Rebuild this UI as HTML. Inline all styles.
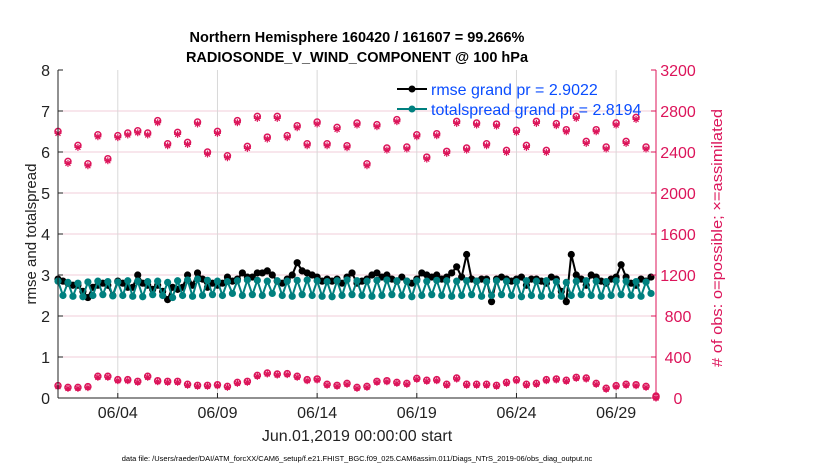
<!DOCTYPE html>
<html><head><meta charset="utf-8"><style>
body{margin:0;background:#fff;}
svg text{font-family:"Liberation Sans",sans-serif;}
</style></head><body>
<svg id="chart" width="830" height="470" xmlns="http://www.w3.org/2000/svg" style="position:absolute;left:0;top:0">
<g id="grid"></g>
<g id="marks"></g>
<g id="axes"></g>
</svg>
<script>
const xTickDays=[3,8,13,18,23,28];
const xTickLabels=["06/04","06/09","06/14","06/19","06/24","06/29"];
const yLeftTicks=[0,1,2,3,4,5,6,7,8];
const yRightTicks=[0,400,800,1200,1600,2000,2400,2800,3200];
const rmse=[2.9,2.85,2.8,2.75,2.75,2.6,2.45,2.7,2.75,2.8,
2.75,2.5,2.85,2.8,2.7,2.7,3.0,2.8,2.75,2.65,
2.75,2.6,2.4,2.7,2.65,2.7,3.0,2.75,3.05,2.9,
2.7,2.8,2.75,2.8,2.95,2.85,2.9,3.05,2.95,2.95,
3.05,3.05,3.1,3.0,2.85,2.8,2.9,3.0,3.3,3.1,
3.05,3.0,2.95,2.85,2.9,2.85,2.9,2.8,2.95,3.05,
2.8,2.85,2.9,3.0,3.05,2.95,3.0,2.9,2.85,2.95,
2.85,2.8,2.9,3.05,3.0,2.95,3.0,2.9,2.95,3.05,
3.2,2.95,3.5,2.9,2.85,2.9,2.9,2.35,2.9,2.95,
2.9,2.85,2.9,2.95,2.75,2.9,2.9,2.85,2.8,2.95,
2.9,2.6,2.35,3.5,3.0,2.9,2.75,3.0,2.95,2.85,
2.8,2.9,2.95,3.25,2.95,2.8,2.75,2.9,2.85,2.95];
const spread=[2.85,2.5,2.82,2.48,2.8,2.47,2.83,2.5,2.85,2.52,
2.84,2.49,2.83,2.5,2.86,2.48,2.85,2.47,2.84,2.52,
2.85,2.5,2.82,2.45,2.86,2.5,2.88,2.48,2.9,2.5,
2.87,2.52,2.85,2.5,2.84,2.55,2.86,2.5,2.88,2.52,
2.87,2.5,2.85,2.55,2.86,2.5,2.85,2.48,2.87,2.52,
2.88,2.5,2.86,2.48,2.84,2.47,2.86,2.5,2.88,2.52,
2.86,2.5,2.85,2.48,2.87,2.5,2.88,2.52,2.86,2.5,
2.85,2.47,2.86,2.5,2.85,2.52,2.87,2.5,2.86,2.48,
2.85,2.5,2.86,2.52,2.85,2.48,2.84,2.5,2.86,2.52,
2.85,2.5,2.84,2.47,2.86,2.5,2.85,2.48,2.86,2.5,
2.84,2.48,2.82,2.5,2.85,2.52,2.86,2.5,2.85,2.48,
2.84,2.5,2.86,2.52,2.85,2.5,2.84,2.48,2.83,2.55];
const possible=[2582,2289,2445,2266,2549,2315,2540,2566,2588,2566,
2686,2461,2572,2474,2673,2380,2582,2344,2686,2435,
2728,2526,2728,2540,2637,2461,2673,2461,2621,2442,
2663,2266,2647,2419,2696,2429,2549,2331,2559,2387,
2679,2419,2663,2461,2653,2396,2592,2445,2679,2396,
2657,2598,2728,2484,2598,2429,2663,2484,2718,2429,0];
const lowCounts=[111,94,94,101,202,202,169,169,153,202,
159,153,153,124,114,114,120,104,143,153,
211,234,224,228,202,169,176,124,114,133,
94,104,153,159,143,133,182,163,169,124,
185,124,124,124,114,143,169,124,133,169,
176,163,192,185,133,85,111,124,120,104,0];

const X0=58,X1=656,Y0=398,Y1=70;
const xs=d=>X0+(d/30)*(X1-X0);
const yl=v=>Y0-(v/8)*(Y0-Y1);
const yr=v=>Y0-(v/3200)*(Y0-Y1);
const NS="http://www.w3.org/2000/svg";
function mk(tag,attrs,parent){const e=document.createElementNS(NS,tag);for(const k in attrs)e.setAttribute(k,attrs[k]);parent.appendChild(e);return e;}
const grid=document.getElementById('grid'),marks=document.getElementById('marks'),axes=document.getElementById('axes');
const RED="#dc145a",TEAL="#00807f";

yLeftTicks.forEach(v=>{if(v>0&&v<8){const l=mk('line',{x1:X0,x2:X1,y1:yl(v),y2:yl(v),stroke:'#f2cdd8','stroke-width':1},grid);

}});
xTickDays.forEach(d=>{const l=mk('line',{x1:xs(d),x2:xs(d),y1:Y1,y2:Y0,stroke:'#d8d8d8','stroke-width':1},grid);

});

function star(cx,cy,r,col,g){for(let a=0;a<4;a++){const t=a*Math.PI/4;mk('line',{x1:cx-r*Math.cos(t),y1:cy-r*Math.sin(t),x2:cx+r*Math.cos(t),y2:cy+r*Math.sin(t),stroke:col,'stroke-width':1.2},g);}}

possible.forEach((v,i)=>{const d=i*0.5;const g=mk('g',{},marks);


mk('circle',{cx:xs(d),cy:yr(v)-2,r:3,fill:'none',stroke:RED,'stroke-width':1.5},g);
star(xs(d),yr(v),3.5,RED,g);});
lowCounts.forEach((v,i)=>{const d=i*0.5;const g=mk('g',{},marks);


mk('circle',{cx:xs(d),cy:yr(v)-1,r:3,fill:'none',stroke:RED,'stroke-width':1.5},g);
star(xs(d),yr(v),3.5,RED,g);});

function series(arr,col,name){const pts=arr.map((v,i)=>xs(i*0.25)+','+yl(v)).join(' ');
const pl=mk('polyline',{points:pts,fill:'none',stroke:col,'stroke-width':2},marks);


arr.forEach((v,i)=>{const c=mk('circle',{cx:xs(i*0.25),cy:yl(v),r:3.6,fill:col},marks);

});}
series(rmse,'#000','rmse');
series(spread,TEAL,'totalspread');

mk('line',{x1:X0,x2:X0,y1:Y1,y2:Y0,stroke:'#222','stroke-width':1},axes);
mk('line',{x1:X0,x2:X1,y1:Y0,y2:Y0,stroke:'#222','stroke-width':1},axes);
mk('line',{x1:X1,x2:X1,y1:Y1,y2:Y0,stroke:RED,'stroke-width':1},axes);
yLeftTicks.forEach(v=>{mk('line',{x1:X0,x2:X0+5,y1:yl(v),y2:yl(v),stroke:'#222'},axes);
const t=mk('text',{x:X0-8,y:yl(v)+6,'text-anchor':'end','font-size':16,fill:'#222'},axes);t.textContent=v;

});
yRightTicks.forEach(v=>{mk('line',{x1:X1-5,x2:X1,y1:yr(v),y2:yr(v),stroke:RED},axes);
const t=mk('text',{x:678,y:yr(v)+6,'text-anchor':'middle','font-size':16,fill:RED},axes);t.textContent=v;

});
xTickDays.forEach((d,i)=>{mk('line',{x1:xs(d),x2:xs(d),y1:Y0,y2:Y0-5,stroke:'#222'},axes);
const t=mk('text',{x:xs(d),y:418,'text-anchor':'middle','font-size':16,fill:'#222'},axes);t.textContent=xTickLabels[i];

});
</script>
<svg style="position:absolute;left:0;top:0" width="830" height="470" xmlns="http://www.w3.org/2000/svg">
<text x="357" y="42" text-anchor="middle" font-size="14.5" font-weight="bold" fill="#000">Northern Hemisphere 160420 / 161607 = 99.266%</text>
<text x="357" y="62" text-anchor="middle" font-size="14.5" font-weight="bold" fill="#000">RADIOSONDE_V_WIND_COMPONENT @ 100 hPa</text>
<text transform="translate(36,234) rotate(-90)" text-anchor="middle" font-size="15" fill="#222">rmse and totalspread</text>
<text transform="translate(722,238) rotate(-90)" text-anchor="middle" font-size="15" textLength="258" lengthAdjust="spacingAndGlyphs" fill="#dc145a"># of obs: o=possible; ×=assimilated</text>
<text x="357" y="441" text-anchor="middle" font-size="16" fill="#222">Jun.01,2019 00:00:00 start</text>
<text x="357" y="461" text-anchor="middle" font-size="7.5" fill="#000">data file: /Users/raeder/DAI/ATM_forcXX/CAM6_setup/f.e21.FHIST_BGC.f09_025.CAM6assim.011/Diags_NTrS_2019-06/obs_diag_output.nc</text>
<g>
<line x1="397" x2="427" y1="89" y2="89" stroke="#000" stroke-width="2"/><circle cx="412" cy="89" r="3.5" fill="#000"/>
<text x="431" y="95" font-size="16" fill="#0a4dff">rmse grand pr = 2.9022</text></g>
<g>
<line x1="397" x2="427" y1="109" y2="109" stroke="#00807f" stroke-width="2"/><circle cx="412" cy="109" r="3.5" fill="#00807f"/>
<text x="431" y="115" font-size="16" fill="#0a4dff">totalspread grand pr = 2.8194</text></g>
</svg>
</body></html>
